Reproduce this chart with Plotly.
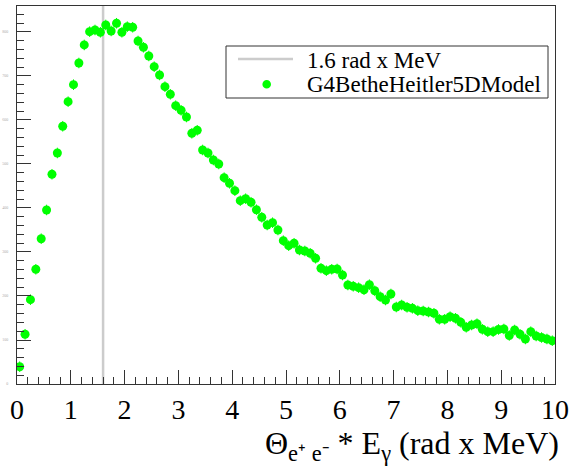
import plotly.graph_objects as go

# Histogram: 100 bins of 0.1 rad x MeV between 0 and 10
bin_centers = [round(0.05 + 0.1 * i, 2) for i in range(100)]
counts = [
    39.3, 113.0, 191.6, 260.7, 330.2, 395.5, 476.6, 525.0, 585.7, 641.6,
    680.2, 729.5, 770.5, 800.7, 804.5, 799.3, 815.9, 802.3, 819.8, 799.3,
    812.0, 810.7, 779.5, 765.2, 745.5, 721.1, 702.3, 675.7, 658.4, 632.5,
    622.0, 606.8, 569.8, 576.6, 531.8, 525.0, 509.1, 500.0, 468.9, 456.1,
    439.3, 416.6, 421.1, 413.0, 396.1, 378.9, 361.4, 366.6, 350.0, 325.7,
    314.3, 319.8, 304.5, 302.3, 297.0, 285.7, 263.0, 257.5, 260.7, 261.4,
    247.7, 225.0, 222.0, 218.9, 214.3, 225.7, 211.8, 198.4, 190.9, 204.5,
    175.0, 179.5, 174.3, 172.0, 166.6, 165.9, 163.6, 160.7, 147.0, 147.0,
    153.0, 149.3, 140.2, 128.9, 134.1, 137.0, 124.3, 118.9, 118.9, 123.9,
    125.0, 110.2, 122.7, 113.0, 102.3, 118.9, 109.1, 105.7, 102.3, 98.4,
]

cut_value = 1.6
y_max = 859.0
x_ticks = list(range(0, 11))
legend_labels = ["1.6 rad x MeV", "G4BetheHeitler5DModel"]

SERIF = "'Liberation Serif', 'Times New Roman', serif"
AXIS_COLOR = "#333333"
LINE_COLOR = "#cccccc"
POINT_COLOR = "#00ff00"

# Page geometry (pixels)
W, H = 571, 467
M_L, M_R, M_T, M_B = 17, 16, 6, 83
PW, PH = W - M_L - M_R, H - M_T - M_B


def px(x):
    """Horizontal pixel position -> paper fraction."""
    return (x - M_L) / PW


def py(y):
    """Vertical pixel position (from top) -> paper fraction."""
    return (H - M_B - y) / PH


fig = go.Figure()

# Reference line at 1.6 rad x MeV
fig.add_trace(go.Scatter(
    x=[cut_value, cut_value], y=[0, y_max],
    mode="lines",
    line=dict(color=LINE_COLOR, width=2.5),
    name=legend_labels[0],
    showlegend=False,
))

# Opening-angle x photon energy distribution
fig.add_trace(go.Scatter(
    x=bin_centers, y=counts,
    mode="markers",
    marker=dict(color=POINT_COLOR, size=9, line=dict(width=0)),
    error_y=dict(type="constant", value=12, thickness=1, width=0, color=POINT_COLOR),
    name=legend_labels[1],
    showlegend=False,
))

fig.update_layout(
    width=W, height=H,
    margin=dict(l=M_L, r=M_R, t=M_T, b=M_B),
    paper_bgcolor="white",
    plot_bgcolor="white",
    font=dict(family=SERIF, color="black"),
    showlegend=False,
)

fig.update_xaxes(
    range=[0, 10],
    tickvals=x_ticks,
    ticktext=[str(v) for v in x_ticks],
    ticks="inside", ticklen=14, tickwidth=1, tickcolor=AXIS_COLOR,
    minor=dict(ticks="inside", ticklen=7, dtick=0.2, tickwidth=1, tickcolor=AXIS_COLOR),
    tickfont=dict(family=SERIF, size=28, color="black"),
    showline=True, linecolor=AXIS_COLOR, linewidth=1, mirror=True,
    showgrid=False, zeroline=False, automargin=False,
)

fig.update_yaxes(
    range=[0, y_max],
    dtick=100,
    ticks="inside", ticklen=14, tickwidth=1, tickcolor=AXIS_COLOR,
    minor=dict(ticks="inside", ticklen=7, dtick=20, tickwidth=1, tickcolor=AXIS_COLOR),
    tickfont=dict(family=SERIF, size=4, color="#aaaaaa"),
    ticklabelstandoff=7,
    showline=True, linecolor=AXIS_COLOR, linewidth=1, mirror=True,
    showgrid=False, zeroline=False, automargin=False,
)

# Legend box
fig.add_shape(
    type="rect", xref="paper", yref="paper",
    x0=px(226), x1=px(548), y0=py(98), y1=py(46),
    line=dict(color=AXIS_COLOR, width=1), fillcolor="white", layer="above",
)
# Legend sample: line
fig.add_shape(
    type="line", xref="paper", yref="paper",
    x0=px(238), x1=px(293), y0=py(59), y1=py(59),
    line=dict(color=LINE_COLOR, width=2.5), layer="above",
)
# Legend sample: marker
r = 4.3
fig.add_shape(
    type="circle", xref="paper", yref="paper",
    x0=px(266.7 - r), x1=px(266.7 + r), y0=py(84.3 + r), y1=py(84.3 - r),
    line=dict(width=0), fillcolor=POINT_COLOR, layer="above",
)
for label, yc in zip(legend_labels, [61, 84]):
    fig.add_annotation(
        xref="paper", yref="paper", x=px(305), y=py(yc),
        xanchor="left", yanchor="middle", showarrow=False,
        text=label, font=dict(family=SERIF, size=23, color="black"),
    )

# Axis title, right-aligned under the tick labels
fig.add_annotation(
    xref="paper", yref="paper",
    x=px(561), y=py(423),
    xanchor="right", yanchor="top",
    showarrow=False,
    text="Θ<sub>e⁺ e⁻</sub> * E<sub>γ</sub> (rad x MeV)",
    font=dict(family=SERIF, size=32, color="black"),
)

fig.write_html("out.html")
